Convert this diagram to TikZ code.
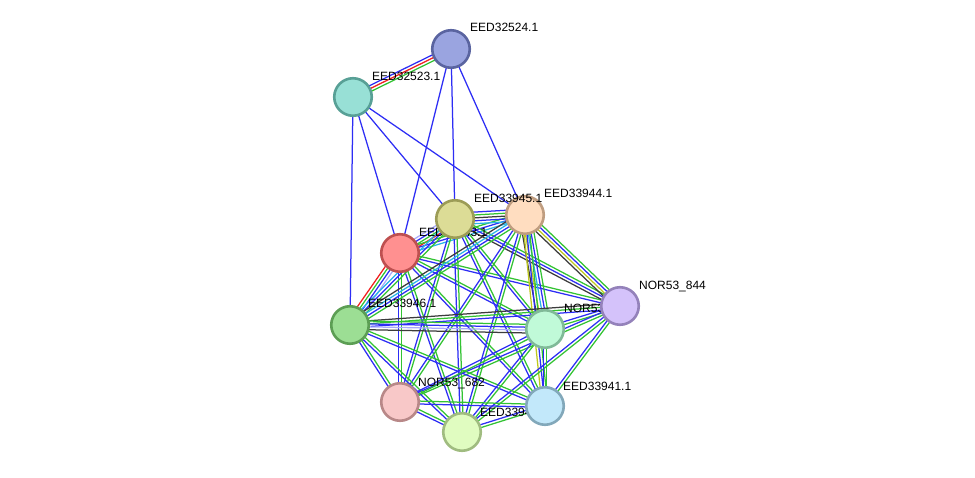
\documentclass[tikz,border=0pt]{standalone}
\usepackage{fontspec}
\setmainfont{Liberation Sans}
\usetikzlibrary{calc}
\pgfdeclarelayer{edgelayer}
\pgfdeclarelayer{labellayer}
\pgfsetlayers{edgelayer,labellayer,main}
\definecolor{eblue}{RGB}{45,45,245}
\definecolor{egreen}{RGB}{50,195,50}
\definecolor{ered}{RGB}{240,30,30}
\definecolor{eblack}{RGB}{60,60,60}
\definecolor{ecyan}{RGB}{40,180,230}
\definecolor{eyellow}{RGB}{190,200,30}
\definecolor{elav}{RGB}{170,170,250}
\definecolor{fB}{RGB}{154,164,224}\definecolor{dB}{RGB}{90,100,160}
\definecolor{fA}{RGB}{152,224,214}\definecolor{dA}{RGB}{88,160,150}
\definecolor{fR}{RGB}{255,144,144}\definecolor{dR}{RGB}{190,80,80}
\definecolor{fF}{RGB}{220,220,150}\definecolor{dF}{RGB}{156,156,86}
\definecolor{fQ}{RGB}{255,221,192}\definecolor{dQ}{RGB}{191,157,128}
\definecolor{fP}{RGB}{212,194,250}\definecolor{dP}{RGB}{148,130,186}
\definecolor{fG}{RGB}{156,222,148}\definecolor{dG}{RGB}{92,158,84}
\definecolor{fM}{RGB}{192,250,216}\definecolor{dM}{RGB}{128,186,152}
\definecolor{fK}{RGB}{248,200,200}\definecolor{dK}{RGB}{184,136,136}
\definecolor{fL}{RGB}{194,232,250}\definecolor{dL}{RGB}{130,168,186}
\definecolor{fY}{RGB}{224,252,192}\definecolor{dY}{RGB}{160,188,128}
\tikzset{
  prot/.style={circle, minimum size=37.5pt, inner sep=0pt, line width=2.6pt, fill=f#1, draw=d#1},
  lbl/.style={anchor=base west, inner sep=0pt, font=\fontsize{12}{14}\selectfont},
  eline/.style={line width=1.25pt}
}
\newcommand\lnk[4]{%
  \foreach \c [count=\i] in {#4} {
    \pgfmathsetlengthmacro\off{(\i-(#3+1)/2)*2.9pt}
    \draw[\c, eline] ($(#1)!\off!90:(#2)$) -- ($(#2)!\off!-90:(#1)$);
  }}
\begin{document}
\begin{tikzpicture}[x=1pt,y=-1pt]
\useasboundingbox (0,0) rectangle (975,478);
% nodes
\node[prot=B] (B) at (451,49) {};
\node[prot=A] (A) at (353,97) {};
\node[prot=R] (R) at (400,253) {};
\node[prot=F] (F) at (455,219) {};
\node[prot=Q] (Q) at (525,215) {};
\node[prot=P] (P) at (620,306) {};
\node[prot=G] (G) at (350,325) {};
\node[prot=M] (M) at (545,329) {};
\node[prot=K] (K) at (400,402) {};
\node[prot=L] (L) at (545,406) {};
\node[prot=Y] (Y) at (462,432) {};
\node[lbl] (lF) at (474,203) {EED33945.1};
% labels
\begin{pgfonlayer}{labellayer}
\node[lbl] (lB) at (470,32) {EED32524.1};
\node[lbl] (lA) at (372,81) {EED32523.1};
\node[lbl] (lR) at (419,237) {EED33943.1};
\node[lbl] (lQ) at (544,198) {EED33944.1};
\node[lbl] (lP) at (639,290) {NOR53\_844};
\node[lbl] (lG) at (368,308) {EED33946.1};
\node[lbl] (lM) at (564,313) {NOR53\_843};
\node[lbl] (lK) at (418,386) {NOR53\_682};
\node[lbl] (lL) at (563,390) {EED33941.1};
\node[lbl] (lY) at (480,416) {EED33942.1};
\end{pgfonlayer}
% edges
\begin{pgfonlayer}{edgelayer}
\fill[white] (0,0) rectangle (975,478);
\lnk{A}{B}{3}{egreen,ered,eblue}
\lnk{A}{G}{1}{eblue}
\lnk{A}{R}{1}{eblue}
\lnk{A}{F}{1}{eblue}
\lnk{A}{Q}{1}{eblue}
\lnk{B}{R}{1}{eblue}
\lnk{B}{F}{1}{eblue}
\lnk{B}{Q}{1}{eblue}
%
\lnk{R}{F}{4}{ered,egreen,eblue,elav}
\lnk{R}{Q}{3}{ecyan,eblue,egreen}
\lnk{R}{P}{2}{eblue,egreen}
\lnk{R}{G}{4}{ered,egreen,eblue,elav}
\lnk{R}{M}{2}{eblue,egreen}
\lnk{R}{K}{2}{eblue,egreen}
\lnk{R}{L}{2}{eblue,egreen}
\lnk{R}{Y}{2}{eblue,egreen}
\lnk{F}{Q}{5}{ecyan,eblue,eblack,egreen,eblue}
\lnk{F}{P}{3}{eblack,eblue,egreen}
\lnk{F}{G}{3}{ecyan,eblue,egreen}
\lnk{F}{M}{2}{eblue,egreen}
\lnk{F}{K}{2}{eblue,egreen}
\lnk{F}{L}{2}{eblue,egreen}
\lnk{F}{Y}{2}{eblue,egreen}
\lnk{Q}{P}{4}{eblack,eyellow,eblue,egreen}
\lnk{Q}{G}{4}{eblack,ecyan,eblue,egreen}
\lnk{Q}{M}{5}{eblack,eyellow,ecyan,eblue,egreen}
\lnk{Q}{K}{2}{eblue,egreen}
\lnk{Q}{L}{3}{eyellow,eblue,egreen}
\lnk{Q}{Y}{2}{eblue,egreen}
\lnk{P}{G}{3}{eblack,egreen,eblue}
\lnk{P}{M}{2}{eblue,egreen}
\lnk{P}{K}{2}{eblue,egreen}
\lnk{P}{L}{2}{eblue,egreen}
\lnk{P}{Y}{2}{eblue,egreen}
\lnk{G}{M}{4}{eblack,elav,eblue,egreen}
\lnk{G}{K}{2}{eblue,egreen}
\lnk{G}{L}{2}{eblue,egreen}
\lnk{G}{Y}{2}{eblue,egreen}
\lnk{M}{K}{2}{eblue,egreen}
\lnk{M}{L}{2}{eblue,egreen}
\lnk{M}{Y}{2}{eblue,egreen}
\lnk{K}{L}{2}{eblue,egreen}
\lnk{K}{Y}{2}{eblue,egreen}
\lnk{L}{Y}{2}{eblue,egreen}
\end{pgfonlayer}
\end{tikzpicture}
\end{document}
